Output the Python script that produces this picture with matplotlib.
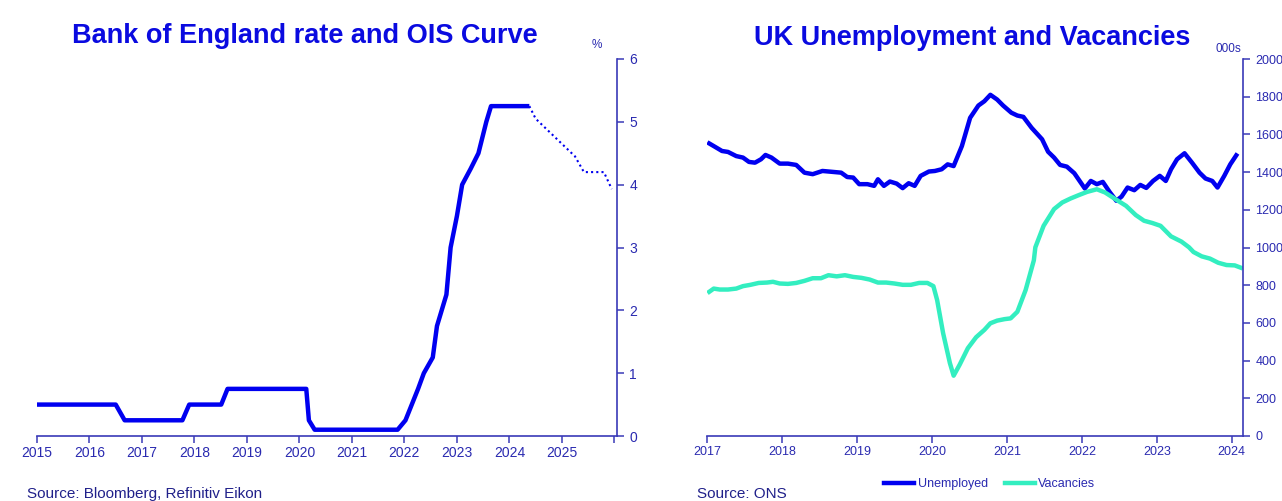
import matplotlib
matplotlib.use("Agg")
import matplotlib.pyplot as plt

SANS = "Liberation Sans"

# ---------------- Data ----------------
# Bank Rate (vertices of the drawn line, decimal years)
boe_x = [2015.0, 2016.50, 2016.67, 2017.77, 2017.90, 2018.51, 2018.63, 2020.13, 2020.18,
         2020.29, 2021.87, 2022.02, 2022.14, 2022.26, 2022.37, 2022.54, 2022.62, 2022.80,
         2022.88, 2023.00, 2023.10, 2023.26, 2023.41, 2023.56, 2023.65, 2024.38]
boe_y = [0.5, 0.5, 0.25, 0.25, 0.5, 0.5, 0.75, 0.75, 0.25,
         0.1, 0.1, 0.25, 0.5, 0.75, 1.0, 1.25, 1.75, 2.25,
         3.0, 3.5, 4.0, 4.25, 4.5, 5.0, 5.25, 5.25]
# OIS curve
ois_x = [2024.38, 2024.50, 2024.75, 2025.00, 2025.25, 2025.42, 2025.80, 2025.95]
ois_y = [5.25, 5.05, 4.85, 4.65, 4.45, 4.20, 4.20, 3.93]

# Unemployment (000s)
unemp_x = [2017.03, 2017.09, 2017.20, 2017.28, 2017.39, 2017.48, 2017.56, 2017.64, 2017.72,
           2017.78, 2017.86, 2017.97, 2018.08, 2018.19, 2018.30, 2018.41, 2018.54, 2018.68,
           2018.79, 2018.87, 2018.95, 2019.03, 2019.14, 2019.23, 2019.28, 2019.36, 2019.44,
           2019.53, 2019.61, 2019.69, 2019.77, 2019.85, 2019.96, 2020.04, 2020.13, 2020.21,
           2020.29, 2020.40, 2020.51, 2020.62, 2020.70, 2020.78, 2020.87, 2020.95, 2021.06,
           2021.14, 2021.22, 2021.33, 2021.47, 2021.55, 2021.63, 2021.71, 2021.80, 2021.90,
           2022.04, 2022.12, 2022.20, 2022.28, 2022.37, 2022.46, 2022.53, 2022.61, 2022.70,
           2022.78, 2022.86, 2022.95, 2023.04, 2023.12, 2023.19, 2023.27, 2023.37, 2023.47,
           2023.57, 2023.65, 2023.74, 2023.81, 2023.90, 2023.98, 2024.06]
unemp_y = [1552, 1538, 1512, 1507, 1485, 1477, 1454, 1450, 1468,
           1491, 1477, 1445, 1445, 1438, 1397, 1389, 1406, 1401,
           1397, 1374, 1371, 1336, 1336, 1327, 1362, 1327, 1350,
           1339, 1315, 1341, 1327, 1380, 1403, 1406, 1415, 1441,
           1432, 1538, 1688, 1753, 1776, 1810, 1785, 1753, 1715,
           1700, 1693, 1635, 1574, 1508, 1477, 1438, 1429, 1394,
           1313, 1353, 1336, 1348, 1295, 1248, 1270, 1318, 1304,
           1332, 1316, 1353, 1380, 1353, 1415, 1468, 1500, 1450,
           1397, 1366, 1353, 1318, 1380, 1441, 1489]

# Vacancies (000s)
vac_x = [2017.03, 2017.09, 2017.17, 2017.28, 2017.39, 2017.48, 2017.58, 2017.69, 2017.80,
         2017.88, 2017.97, 2018.08, 2018.19, 2018.30, 2018.41, 2018.52, 2018.62, 2018.73,
         2018.84, 2018.95, 2019.06, 2019.17, 2019.28, 2019.39, 2019.50, 2019.61, 2019.72,
         2019.83, 2019.94, 2020.02, 2020.07, 2020.15, 2020.24, 2020.29, 2020.37, 2020.48,
         2020.59, 2020.70, 2020.78, 2020.87, 2020.97, 2021.05, 2021.14, 2021.25, 2021.36,
         2021.38, 2021.49, 2021.63, 2021.74, 2021.85, 2021.96, 2022.07, 2022.20, 2022.31,
         2022.45, 2022.59, 2022.72, 2022.83, 2022.94, 2023.05, 2023.19, 2023.33, 2023.43,
         2023.49, 2023.60, 2023.71, 2023.82, 2023.93, 2024.04, 2024.12]
vac_y = [765, 782, 777, 777, 782, 795, 802, 812, 814,
         818, 809, 807, 812, 823, 837, 837, 853, 847,
         853, 844, 839, 830, 814, 814, 809, 802, 802,
         812, 812, 795, 721, 545, 387, 320, 378, 466,
         524, 563, 598, 612, 620, 624, 659, 774, 932,
         1001, 1115, 1204, 1239, 1260, 1278, 1295, 1309, 1292,
         1256, 1221, 1172, 1142, 1130, 1115, 1059, 1031, 1001,
         976, 953, 941, 919, 907, 905, 893]

left_years = list(range(2015, 2027))
left_year_labels = [str(y) for y in range(2015, 2026)] + [""]
right_years = list(range(2017, 2025))
left_yticks = [0, 1, 2, 3, 4, 5, 6]
right_yticks = [0, 200, 400, 600, 800, 1000, 1200, 1400, 1600, 1800, 2000]

# ---------------- Style ----------------
LINE = "#0000F0"
AQUA = "#33EEC0"
AXC = "#3A3AB8"
LBL = "#2A2AB0"
TITLE = "#0A0AE0"
SRC = "#20208A"

W, H = 1282, 501
fig = plt.figure(figsize=(W / 100, H / 100), dpi=100)
fig.patch.set_facecolor("white")


def style_axes(ax, size):
    for s in ["left", "top"]:
        ax.spines[s].set_visible(False)
    for s in ["right", "bottom"]:
        ax.spines[s].set_color(AXC)
        ax.spines[s].set_linewidth(1.2)
    ax.yaxis.tick_right()
    ax.tick_params(axis="both", colors=AXC, labelcolor=LBL, length=5, width=1.1,
                   labelsize=size, direction="out")
    ax.tick_params(axis="y", pad=4)
    ax.tick_params(axis="x", pad=2.5)
    for t in ax.get_xticklabels() + ax.get_yticklabels():
        t.set_fontfamily(SANS)


# Left chart
ax1 = fig.add_axes([37 / W, 1 - 436 / H, (617 - 37) / W, (436 - 59) / H])
ax1.plot(boe_x, boe_y, color=LINE, lw=3.2, solid_joinstyle="round", solid_capstyle="butt")
ax1.plot(ois_x, ois_y, color=LINE, lw=1.5, linestyle=(0, (1, 1.5)))
ax1.set_xlim(2015, 2026.05)
ax1.set_ylim(0, 6)
ax1.set_xticks(left_years)
ax1.set_xticklabels(left_year_labels)
ax1.set_yticks(left_yticks)
style_axes(ax1, 10)

# Right chart
ax2 = fig.add_axes([707 / W, 1 - 436 / H, (1243 - 707) / W, (436 - 59) / H])
l1, = ax2.plot(unemp_x, unemp_y, color=LINE, lw=3.2, solid_joinstyle="round", label="Unemployed")
l2, = ax2.plot(vac_x, vac_y, color=AQUA, lw=3.2, solid_joinstyle="round", label="Vacancies")
ax2.set_xlim(2017, 2024.15)
ax2.set_ylim(0, 2000)
ax2.set_xticks(right_years)
ax2.set_yticks(right_yticks)
style_axes(ax2, 9)

# Titles
fig.text(305 / W, 1 - 36 / H, "Bank of England rate and OIS Curve", ha="center", va="center",
         color=TITLE, fontsize=19.5, fontweight="bold", family=SANS)
fig.text(972 / W, 1 - 38 / H, "UK Unemployment and Vacancies", ha="center", va="center",
         color=TITLE, fontsize=19.5, fontweight="bold", family=SANS)
fig.text(597 / W, 1 - 45 / H, "%", ha="center", va="center", color=LBL, fontsize=8.5,
         family=SANS)
fig.text(1228 / W, 1 - 49 / H, "000s", ha="center", va="center", color=LBL, fontsize=8.5,
         family=SANS)

# Sources
fig.text(27 / W, 1 - 494 / H, "Source: Bloomberg, Refinitiv Eikon", ha="left", va="center",
         color=SRC, fontsize=11, family=SANS)
fig.text(697 / W, 1 - 494 / H, "Source: ONS", ha="left", va="center",
         color=SRC, fontsize=11, family=SANS)

# Legend
leg = fig.legend(handles=[l1, l2], loc="center", bbox_to_anchor=(990 / W, 1 - 484 / H),
                 ncol=2, frameon=False, handlelength=2.4, handletextpad=0.3, columnspacing=1.3,
                 prop={"family": SANS, "size": 9})
for t in leg.get_texts():
    t.set_color(LBL)

fig.savefig("out.png", dpi=100, facecolor="white")
